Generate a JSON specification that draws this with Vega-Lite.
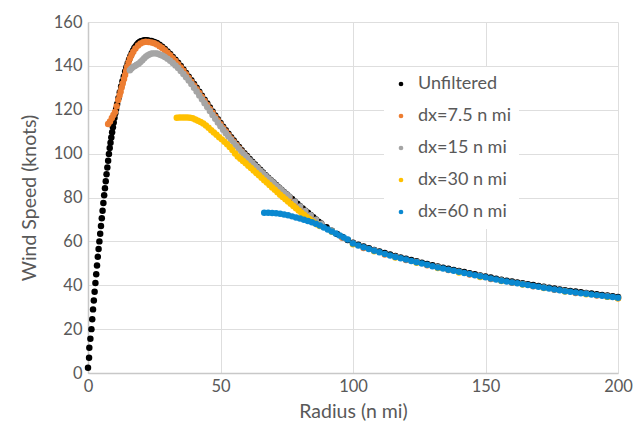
{
"$schema": "https://vega.github.io/schema/vega-lite/v6.json",
"width": 530, "height": 351,
"autosize": {"type": "none"},
"padding": {"left": 88, "top": 22, "right": 16, "bottom": 58},
"background": "white",
"config": {
 "view": {"stroke": null},
 "axis": {"domainColor": "#c8c8c8", "domainWidth": 1.5, "gridColor": "#dedede", "gridWidth": 1, "ticks": false, "labelFlush": false,
  "labelFont": "Lato", "labelFontSize": 16.5, "labelColor": "#595959",
  "titleFont": "Lato", "titleFontSize": 19.5, "titleColor": "#595959", "titleFontWeight": "normal"}
},
"data": {"values": [
{"s":"Unfiltered","r":0.0,"v":2.4},{"s":"Unfiltered","r":0.4,"v":7.0},{"s":"Unfiltered","r":0.5,"v":11.5},{"s":"Unfiltered","r":0.9,"v":15.6},{"s":"Unfiltered","r":1.3,"v":20.0},{"s":"Unfiltered","r":1.6,"v":24.5},{"s":"Unfiltered","r":1.9,"v":29.0},{"s":"Unfiltered","r":2.2,"v":33.0},{"s":"Unfiltered","r":2.5,"v":37.0},{"s":"Unfiltered","r":2.8,"v":41.0},{"s":"Unfiltered","r":3.1,"v":45.0},{"s":"Unfiltered","r":3.4,"v":49.0},{"s":"Unfiltered","r":3.7,"v":53.0},{"s":"Unfiltered","r":4.0,"v":56.5},{"s":"Unfiltered","r":4.3,"v":60.0},{"s":"Unfiltered","r":4.6,"v":63.5},{"s":"Unfiltered","r":4.9,"v":67.0},{"s":"Unfiltered","r":5.2,"v":70.5},{"s":"Unfiltered","r":5.5,"v":74.0},{"s":"Unfiltered","r":5.8,"v":77.5},{"s":"Unfiltered","r":6.1,"v":81.0},{"s":"Unfiltered","r":6.4,"v":84.2},{"s":"Unfiltered","r":6.7,"v":87.4},{"s":"Unfiltered","r":7.0,"v":90.6},{"s":"Unfiltered","r":7.3,"v":93.7},{"s":"Unfiltered","r":7.6,"v":96.8},{"s":"Unfiltered","r":7.9,"v":99.8},{"s":"Unfiltered","r":8.2,"v":102.6},{"s":"Unfiltered","r":8.5,"v":105.0},{"s":"Unfiltered","r":8.8,"v":107.4},{"s":"Unfiltered","r":9.1,"v":109.8},{"s":"Unfiltered","r":9.4,"v":112.0},{"s":"Unfiltered","r":9.7,"v":114.2},{"s":"Unfiltered","r":10.0,"v":116.4},{"s":"Unfiltered","r":10.3,"v":118.4},{"s":"Unfiltered","r":10.6,"v":120.3},{"s":"Unfiltered","r":11.0,"v":122.6},{"s":"Unfiltered","r":11.5,"v":125.4},{"s":"Unfiltered","r":12.0,"v":128.0},{"s":"Unfiltered","r":12.5,"v":130.6},{"s":"Unfiltered","r":13.0,"v":133.0},{"s":"Unfiltered","r":13.5,"v":135.2},{"s":"Unfiltered","r":14.0,"v":137.4},{"s":"Unfiltered","r":14.5,"v":139.4},{"s":"Unfiltered","r":15.0,"v":141.2},{"s":"Unfiltered","r":15.5,"v":142.9},{"s":"Unfiltered","r":16.0,"v":144.4},{"s":"Unfiltered","r":16.5,"v":145.8},{"s":"Unfiltered","r":17.0,"v":147.0},{"s":"Unfiltered","r":17.5,"v":148.1},{"s":"Unfiltered","r":18.0,"v":149.0},{"s":"Unfiltered","r":18.5,"v":149.8},{"s":"Unfiltered","r":19.0,"v":150.4},{"s":"Unfiltered","r":19.5,"v":150.9},{"s":"Unfiltered","r":20.0,"v":151.2},{"s":"Unfiltered","r":20.5,"v":151.4},{"s":"Unfiltered","r":21.0,"v":151.6},{"s":"Unfiltered","r":21.5,"v":151.7},{"s":"Unfiltered","r":22.0,"v":151.7},{"s":"Unfiltered","r":22.5,"v":151.6},
{"s":"Unfiltered","r":23,"v":151.5},{"s":"Unfiltered","r":24,"v":151.3},{"s":"Unfiltered","r":25,"v":150.9},{"s":"Unfiltered","r":26,"v":150.4},{"s":"Unfiltered","r":27,"v":149.6},{"s":"Unfiltered","r":28,"v":148.7},{"s":"Unfiltered","r":29,"v":147.7},{"s":"Unfiltered","r":30,"v":146.6},{"s":"Unfiltered","r":31,"v":145.4},{"s":"Unfiltered","r":32,"v":144.1},{"s":"Unfiltered","r":33,"v":142.8},{"s":"Unfiltered","r":34,"v":141.4},{"s":"Unfiltered","r":35,"v":139.9},{"s":"Unfiltered","r":36,"v":138.4},{"s":"Unfiltered","r":37,"v":136.8},{"s":"Unfiltered","r":38,"v":135.1},{"s":"Unfiltered","r":39,"v":133.4},{"s":"Unfiltered","r":40,"v":131.7},{"s":"Unfiltered","r":41,"v":130.0},{"s":"Unfiltered","r":42,"v":128.2},{"s":"Unfiltered","r":43,"v":126.4},{"s":"Unfiltered","r":44,"v":124.6},{"s":"Unfiltered","r":45,"v":122.8},{"s":"Unfiltered","r":46,"v":121.0},{"s":"Unfiltered","r":47,"v":119.2},{"s":"Unfiltered","r":48,"v":117.4},{"s":"Unfiltered","r":49,"v":115.7},{"s":"Unfiltered","r":50,"v":114.0},{"s":"Unfiltered","r":51,"v":112.3},{"s":"Unfiltered","r":52,"v":110.7},{"s":"Unfiltered","r":53,"v":109.1},{"s":"Unfiltered","r":54,"v":107.5},{"s":"Unfiltered","r":55,"v":106.0},{"s":"Unfiltered","r":56,"v":104.5},{"s":"Unfiltered","r":57,"v":103.0},{"s":"Unfiltered","r":58,"v":101.6},{"s":"Unfiltered","r":59,"v":100.2},{"s":"Unfiltered","r":60,"v":98.9},{"s":"Unfiltered","r":61,"v":97.6},{"s":"Unfiltered","r":62,"v":96.3},{"s":"Unfiltered","r":63,"v":95.0},{"s":"Unfiltered","r":64,"v":93.8},{"s":"Unfiltered","r":65,"v":92.6},{"s":"Unfiltered","r":66,"v":91.4},{"s":"Unfiltered","r":67,"v":90.2},{"s":"Unfiltered","r":68,"v":89.0},{"s":"Unfiltered","r":69,"v":87.9},{"s":"Unfiltered","r":70,"v":86.8},{"s":"Unfiltered","r":71,"v":85.7},{"s":"Unfiltered","r":72,"v":84.6},{"s":"Unfiltered","r":73,"v":83.5},{"s":"Unfiltered","r":74,"v":82.4},{"s":"Unfiltered","r":75,"v":81.4},{"s":"Unfiltered","r":76,"v":80.4},{"s":"Unfiltered","r":77,"v":79.3},{"s":"Unfiltered","r":78,"v":78.2},{"s":"Unfiltered","r":79,"v":77.1},{"s":"Unfiltered","r":80,"v":76.0},{"s":"Unfiltered","r":81,"v":75.0},{"s":"Unfiltered","r":82,"v":74.0},{"s":"Unfiltered","r":83,"v":73.0},{"s":"Unfiltered","r":84,"v":72.0},{"s":"Unfiltered","r":85,"v":71.0},{"s":"Unfiltered","r":86,"v":70.0},{"s":"Unfiltered","r":87,"v":69.0},{"s":"Unfiltered","r":88,"v":68.1},{"s":"Unfiltered","r":90,"v":66.5},{"s":"Unfiltered","r":92,"v":64.9},{"s":"Unfiltered","r":94,"v":63.4},{"s":"Unfiltered","r":96,"v":62.0},{"s":"Unfiltered","r":98,"v":60.6},
{"s":"Unfiltered","r":100,"v":59.4},{"s":"Unfiltered","r":102,"v":58.5},{"s":"Unfiltered","r":104,"v":57.7},{"s":"Unfiltered","r":106,"v":56.9},{"s":"Unfiltered","r":108,"v":56.1},{"s":"Unfiltered","r":110,"v":55.4},{"s":"Unfiltered","r":112,"v":54.7},{"s":"Unfiltered","r":114,"v":54.0},{"s":"Unfiltered","r":116,"v":53.3},{"s":"Unfiltered","r":118,"v":52.7},{"s":"Unfiltered","r":120,"v":52.1},{"s":"Unfiltered","r":122,"v":51.5},{"s":"Unfiltered","r":124,"v":50.9},{"s":"Unfiltered","r":126,"v":50.3},{"s":"Unfiltered","r":128,"v":49.7},{"s":"Unfiltered","r":130,"v":49.1},{"s":"Unfiltered","r":132,"v":48.5},{"s":"Unfiltered","r":134,"v":48.0},{"s":"Unfiltered","r":136,"v":47.5},{"s":"Unfiltered","r":138,"v":47.0},{"s":"Unfiltered","r":140,"v":46.5},{"s":"Unfiltered","r":142,"v":46.0},{"s":"Unfiltered","r":144,"v":45.5},{"s":"Unfiltered","r":146,"v":45.0},{"s":"Unfiltered","r":148,"v":44.5},{"s":"Unfiltered","r":150,"v":44.0},{"s":"Unfiltered","r":152,"v":43.5},{"s":"Unfiltered","r":154,"v":43.0},{"s":"Unfiltered","r":156,"v":42.5},{"s":"Unfiltered","r":158,"v":42.1},{"s":"Unfiltered","r":160,"v":41.7},{"s":"Unfiltered","r":162,"v":41.3},{"s":"Unfiltered","r":164,"v":40.9},{"s":"Unfiltered","r":166,"v":40.5},{"s":"Unfiltered","r":168,"v":40.1},{"s":"Unfiltered","r":170,"v":39.7},{"s":"Unfiltered","r":172,"v":39.3},{"s":"Unfiltered","r":174,"v":38.9},{"s":"Unfiltered","r":176,"v":38.5},{"s":"Unfiltered","r":178,"v":38.1},{"s":"Unfiltered","r":180,"v":37.7},{"s":"Unfiltered","r":182,"v":37.4},{"s":"Unfiltered","r":184,"v":37.1},{"s":"Unfiltered","r":186,"v":36.8},{"s":"Unfiltered","r":188,"v":36.5},{"s":"Unfiltered","r":190,"v":36.2},{"s":"Unfiltered","r":192,"v":35.9},{"s":"Unfiltered","r":194,"v":35.6},{"s":"Unfiltered","r":196,"v":35.3},{"s":"Unfiltered","r":198,"v":35.0},{"s":"Unfiltered","r":200,"v":34.7},
{"s":"dx=7.5 n mi","r":7.6,"v":113.5},{"s":"dx=7.5 n mi","r":8.3,"v":114.6},{"s":"dx=7.5 n mi","r":9.0,"v":116.2},{"s":"dx=7.5 n mi","r":9.6,"v":117.6},{"s":"dx=7.5 n mi","r":10.2,"v":119.0},{"s":"dx=7.5 n mi","r":10.8,"v":121.6},{"s":"dx=7.5 n mi","r":11.4,"v":124.4},{"s":"dx=7.5 n mi","r":11.9,"v":126.5},{"s":"dx=7.5 n mi","r":12.3,"v":128.2},{"s":"dx=7.5 n mi","r":12.7,"v":130.1},{"s":"dx=7.5 n mi","r":13.1,"v":132.0},{"s":"dx=7.5 n mi","r":13.6,"v":134.0},{"s":"dx=7.5 n mi","r":14.0,"v":135.8},{"s":"dx=7.5 n mi","r":14.4,"v":137.7},{"s":"dx=7.5 n mi","r":14.8,"v":139.6},{"s":"dx=7.5 n mi","r":15.3,"v":141.6},{"s":"dx=7.5 n mi","r":15.8,"v":143.4},{"s":"dx=7.5 n mi","r":16.4,"v":145.0},{"s":"dx=7.5 n mi","r":17.1,"v":146.4},{"s":"dx=7.5 n mi","r":17.9,"v":147.9},{"s":"dx=7.5 n mi","r":18.9,"v":149.3},{"s":"dx=7.5 n mi","r":19.8,"v":150.2},{"s":"dx=7.5 n mi","r":20.8,"v":150.8},{"s":"dx=7.5 n mi","r":21.8,"v":151.0},{"s":"dx=7.5 n mi","r":22.8,"v":150.9},
{"s":"dx=7.5 n mi","r":24,"v":150.7},{"s":"dx=7.5 n mi","r":25,"v":150.3},{"s":"dx=7.5 n mi","r":26,"v":149.8},{"s":"dx=7.5 n mi","r":27,"v":149.0},{"s":"dx=7.5 n mi","r":28,"v":148.1},{"s":"dx=7.5 n mi","r":29,"v":147.1},{"s":"dx=7.5 n mi","r":30,"v":146.0},{"s":"dx=7.5 n mi","r":31,"v":144.8},{"s":"dx=7.5 n mi","r":32,"v":143.5},{"s":"dx=7.5 n mi","r":33,"v":142.2},{"s":"dx=7.5 n mi","r":34,"v":140.8},{"s":"dx=7.5 n mi","r":35,"v":139.3},{"s":"dx=7.5 n mi","r":36,"v":137.8},{"s":"dx=7.5 n mi","r":37,"v":136.2},{"s":"dx=7.5 n mi","r":38,"v":134.5},{"s":"dx=7.5 n mi","r":39,"v":132.8},{"s":"dx=7.5 n mi","r":40,"v":131.1},{"s":"dx=7.5 n mi","r":41,"v":129.4},{"s":"dx=7.5 n mi","r":42,"v":127.6},{"s":"dx=7.5 n mi","r":43,"v":125.8},{"s":"dx=7.5 n mi","r":44,"v":124.0},{"s":"dx=7.5 n mi","r":45,"v":122.2},{"s":"dx=7.5 n mi","r":46,"v":120.4},{"s":"dx=7.5 n mi","r":47,"v":118.6},{"s":"dx=7.5 n mi","r":48,"v":116.8},{"s":"dx=7.5 n mi","r":49,"v":115.1},{"s":"dx=7.5 n mi","r":50,"v":113.4},{"s":"dx=7.5 n mi","r":51,"v":111.7},{"s":"dx=7.5 n mi","r":52,"v":110.1},{"s":"dx=7.5 n mi","r":53,"v":108.5},{"s":"dx=7.5 n mi","r":54,"v":106.9},{"s":"dx=7.5 n mi","r":55,"v":105.4},{"s":"dx=7.5 n mi","r":56,"v":103.9},{"s":"dx=7.5 n mi","r":57,"v":102.4},{"s":"dx=7.5 n mi","r":58,"v":101.0},{"s":"dx=7.5 n mi","r":59,"v":99.6},{"s":"dx=7.5 n mi","r":60,"v":98.3},{"s":"dx=7.5 n mi","r":62,"v":95.7},{"s":"dx=7.5 n mi","r":64,"v":93.2},{"s":"dx=7.5 n mi","r":66,"v":90.8},{"s":"dx=7.5 n mi","r":68,"v":88.4},{"s":"dx=7.5 n mi","r":70,"v":86.2},{"s":"dx=7.5 n mi","r":72,"v":84.0},{"s":"dx=7.5 n mi","r":74,"v":81.8},{"s":"dx=7.5 n mi","r":76,"v":79.8},{"s":"dx=7.5 n mi","r":78,"v":77.6},{"s":"dx=7.5 n mi","r":80,"v":75.4},{"s":"dx=7.5 n mi","r":82,"v":73.4},{"s":"dx=7.5 n mi","r":84,"v":71.4},{"s":"dx=7.5 n mi","r":86,"v":69.4},{"s":"dx=7.5 n mi","r":88,"v":67.5},{"s":"dx=7.5 n mi","r":96,"v":61.6},{"s":"dx=7.5 n mi","r":104,"v":57.0},{"s":"dx=7.5 n mi","r":112,"v":54.0},{"s":"dx=7.5 n mi","r":120,"v":51.5},{"s":"dx=7.5 n mi","r":128,"v":49.1},{"s":"dx=7.5 n mi","r":136,"v":46.9},{"s":"dx=7.5 n mi","r":144,"v":44.9},{"s":"dx=7.5 n mi","r":152,"v":42.9},{"s":"dx=7.5 n mi","r":160,"v":41.1},{"s":"dx=7.5 n mi","r":168,"v":39.5},{"s":"dx=7.5 n mi","r":176,"v":37.9},{"s":"dx=7.5 n mi","r":184,"v":36.5},{"s":"dx=7.5 n mi","r":192,"v":35.3},{"s":"dx=7.5 n mi","r":200,"v":34.1},
{"s":"dx=15 n mi","r":15.8,"v":138.0},{"s":"dx=15 n mi","r":16.4,"v":138.8},{"s":"dx=15 n mi","r":17.0,"v":139.5},{"s":"dx=15 n mi","r":17.7,"v":140.0},{"s":"dx=15 n mi","r":18.4,"v":140.5},{"s":"dx=15 n mi","r":19.1,"v":141.0},{"s":"dx=15 n mi","r":19.8,"v":141.8},{"s":"dx=15 n mi","r":20.5,"v":142.6},{"s":"dx=15 n mi","r":21.2,"v":143.5},{"s":"dx=15 n mi","r":21.9,"v":144.3},{"s":"dx=15 n mi","r":22.6,"v":144.9},{"s":"dx=15 n mi","r":23.3,"v":145.3},{"s":"dx=15 n mi","r":24.0,"v":145.6},{"s":"dx=15 n mi","r":24.7,"v":145.7},{"s":"dx=15 n mi","r":25.4,"v":145.7},{"s":"dx=15 n mi","r":26.1,"v":145.6},{"s":"dx=15 n mi","r":26.8,"v":145.3},{"s":"dx=15 n mi","r":27.5,"v":145.0},{"s":"dx=15 n mi","r":28.2,"v":144.6},
{"s":"dx=15 n mi","r":29,"v":144.0},{"s":"dx=15 n mi","r":30,"v":143.2},{"s":"dx=15 n mi","r":31,"v":142.3},{"s":"dx=15 n mi","r":32,"v":141.3},{"s":"dx=15 n mi","r":33,"v":140.2},{"s":"dx=15 n mi","r":34,"v":139.0},{"s":"dx=15 n mi","r":35,"v":137.7},{"s":"dx=15 n mi","r":36,"v":136.3},{"s":"dx=15 n mi","r":37,"v":134.8},{"s":"dx=15 n mi","r":38,"v":133.3},{"s":"dx=15 n mi","r":39,"v":131.7},{"s":"dx=15 n mi","r":40,"v":130.0},{"s":"dx=15 n mi","r":41,"v":128.3},{"s":"dx=15 n mi","r":42,"v":126.5},{"s":"dx=15 n mi","r":43,"v":124.8},{"s":"dx=15 n mi","r":44,"v":123.0},{"s":"dx=15 n mi","r":45,"v":121.2},{"s":"dx=15 n mi","r":46,"v":119.4},{"s":"dx=15 n mi","r":47,"v":117.6},{"s":"dx=15 n mi","r":48,"v":115.9},{"s":"dx=15 n mi","r":49,"v":114.2},{"s":"dx=15 n mi","r":50,"v":112.5},{"s":"dx=15 n mi","r":51,"v":110.9},{"s":"dx=15 n mi","r":52,"v":109.3},{"s":"dx=15 n mi","r":53,"v":107.8},{"s":"dx=15 n mi","r":54,"v":106.3},{"s":"dx=15 n mi","r":55,"v":104.9},{"s":"dx=15 n mi","r":56,"v":103.5},{"s":"dx=15 n mi","r":57,"v":102.1},{"s":"dx=15 n mi","r":58,"v":100.8},{"s":"dx=15 n mi","r":59,"v":99.5},{"s":"dx=15 n mi","r":60,"v":98.3},{"s":"dx=15 n mi","r":61,"v":97.0},{"s":"dx=15 n mi","r":62,"v":95.8},{"s":"dx=15 n mi","r":63,"v":94.6},{"s":"dx=15 n mi","r":64,"v":93.4},{"s":"dx=15 n mi","r":65,"v":92.2},{"s":"dx=15 n mi","r":66,"v":91.1},{"s":"dx=15 n mi","r":67,"v":89.9},{"s":"dx=15 n mi","r":68,"v":88.8},{"s":"dx=15 n mi","r":69,"v":87.7},{"s":"dx=15 n mi","r":70,"v":86.6},{"s":"dx=15 n mi","r":71,"v":85.5},{"s":"dx=15 n mi","r":72,"v":84.5},{"s":"dx=15 n mi","r":73,"v":83.4},{"s":"dx=15 n mi","r":74,"v":82.3},{"s":"dx=15 n mi","r":75,"v":81.3},{"s":"dx=15 n mi","r":76,"v":80.3},{"s":"dx=15 n mi","r":78,"v":78.1},{"s":"dx=15 n mi","r":80,"v":75.9},{"s":"dx=15 n mi","r":82,"v":73.9},{"s":"dx=15 n mi","r":84,"v":71.9},{"s":"dx=15 n mi","r":86,"v":69.9},{"s":"dx=15 n mi","r":88,"v":68.0},{"s":"dx=15 n mi","r":92,"v":64.7},{"s":"dx=15 n mi","r":100,"v":59.0},{"s":"dx=15 n mi","r":108,"v":55.8},{"s":"dx=15 n mi","r":116,"v":53.0},{"s":"dx=15 n mi","r":124,"v":50.6},{"s":"dx=15 n mi","r":132,"v":48.2},{"s":"dx=15 n mi","r":140,"v":46.2},{"s":"dx=15 n mi","r":148,"v":44.2},{"s":"dx=15 n mi","r":156,"v":42.2},{"s":"dx=15 n mi","r":164,"v":40.6},{"s":"dx=15 n mi","r":172,"v":39.0},{"s":"dx=15 n mi","r":180,"v":37.4},{"s":"dx=15 n mi","r":188,"v":36.2},{"s":"dx=15 n mi","r":196,"v":35.0},
{"s":"dx=30 n mi","r":33.5,"v":116.4},{"s":"dx=30 n mi","r":34.5,"v":116.5},{"s":"dx=30 n mi","r":35.5,"v":116.5},{"s":"dx=30 n mi","r":36.5,"v":116.5},{"s":"dx=30 n mi","r":37.5,"v":116.5},{"s":"dx=30 n mi","r":38.5,"v":116.4},{"s":"dx=30 n mi","r":39.5,"v":116.1},{"s":"dx=30 n mi","r":40.5,"v":115.6},{"s":"dx=30 n mi","r":41.5,"v":115.0},{"s":"dx=30 n mi","r":42.5,"v":114.4},{"s":"dx=30 n mi","r":43.5,"v":113.7},{"s":"dx=30 n mi","r":44.5,"v":112.8},{"s":"dx=30 n mi","r":45.5,"v":111.8},{"s":"dx=30 n mi","r":46.5,"v":110.7},{"s":"dx=30 n mi","r":47.5,"v":109.6},{"s":"dx=30 n mi","r":48.5,"v":108.6},{"s":"dx=30 n mi","r":49.5,"v":107.5},{"s":"dx=30 n mi","r":50.5,"v":106.5},{"s":"dx=30 n mi","r":51.5,"v":105.4},{"s":"dx=30 n mi","r":52.5,"v":104.3},{"s":"dx=30 n mi","r":53.5,"v":103.0},{"s":"dx=30 n mi","r":54.5,"v":101.6},{"s":"dx=30 n mi","r":55.5,"v":100.1},{"s":"dx=30 n mi","r":56.5,"v":98.7},{"s":"dx=30 n mi","r":57.5,"v":97.7},{"s":"dx=30 n mi","r":58.5,"v":96.6},{"s":"dx=30 n mi","r":59.5,"v":95.6},{"s":"dx=30 n mi","r":60.5,"v":94.5},{"s":"dx=30 n mi","r":61.5,"v":93.4},{"s":"dx=30 n mi","r":62.5,"v":92.3},{"s":"dx=30 n mi","r":63.5,"v":91.2},{"s":"dx=30 n mi","r":64.5,"v":90.1},{"s":"dx=30 n mi","r":65.5,"v":89.0},{"s":"dx=30 n mi","r":66.5,"v":87.9},{"s":"dx=30 n mi","r":67.5,"v":86.8},{"s":"dx=30 n mi","r":68.5,"v":85.7},{"s":"dx=30 n mi","r":69.5,"v":84.6},{"s":"dx=30 n mi","r":70.5,"v":83.5},{"s":"dx=30 n mi","r":71.5,"v":82.4},{"s":"dx=30 n mi","r":72.5,"v":81.3},{"s":"dx=30 n mi","r":73.5,"v":80.2},{"s":"dx=30 n mi","r":74.5,"v":79.2},{"s":"dx=30 n mi","r":75.5,"v":78.2},{"s":"dx=30 n mi","r":76.5,"v":77.2},{"s":"dx=30 n mi","r":77.5,"v":76.1},{"s":"dx=30 n mi","r":78.5,"v":75.1},{"s":"dx=30 n mi","r":79.5,"v":74.1},{"s":"dx=30 n mi","r":80.5,"v":73.1},{"s":"dx=30 n mi","r":81.5,"v":72.1},{"s":"dx=30 n mi","r":82.5,"v":71.1},{"s":"dx=30 n mi","r":83.5,"v":70.2},{"s":"dx=30 n mi","r":84.5,"v":69.3},{"s":"dx=30 n mi","r":85.5,"v":68.5},{"s":"dx=30 n mi","r":86.5,"v":67.7},{"s":"dx=30 n mi","r":87.5,"v":67.0},{"s":"dx=30 n mi","r":92,"v":64.4},{"s":"dx=30 n mi","r":100,"v":58.7},{"s":"dx=30 n mi","r":108,"v":55.5},{"s":"dx=30 n mi","r":116,"v":52.7},{"s":"dx=30 n mi","r":124,"v":50.2},{"s":"dx=30 n mi","r":132,"v":47.9},{"s":"dx=30 n mi","r":140,"v":45.8},{"s":"dx=30 n mi","r":148,"v":43.8},{"s":"dx=30 n mi","r":156,"v":41.9},{"s":"dx=30 n mi","r":164,"v":40.3},{"s":"dx=30 n mi","r":172,"v":38.7},{"s":"dx=30 n mi","r":180,"v":37.1},{"s":"dx=30 n mi","r":188,"v":35.9},{"s":"dx=30 n mi","r":196,"v":34.7},{"s":"dx=30 n mi","r":200,"v":34.1},
{"s":"dx=60 n mi","r":66.5,"v":73.0},{"s":"dx=60 n mi","r":68,"v":73.0},{"s":"dx=60 n mi","r":69.5,"v":72.9},{"s":"dx=60 n mi","r":71,"v":72.8},{"s":"dx=60 n mi","r":72.5,"v":72.6},{"s":"dx=60 n mi","r":74,"v":72.3},{"s":"dx=60 n mi","r":75.5,"v":71.9},{"s":"dx=60 n mi","r":77,"v":71.4},{"s":"dx=60 n mi","r":78.5,"v":70.9},{"s":"dx=60 n mi","r":80,"v":70.4},{"s":"dx=60 n mi","r":81.5,"v":69.9},{"s":"dx=60 n mi","r":83,"v":69.3},{"s":"dx=60 n mi","r":84.5,"v":68.7},{"s":"dx=60 n mi","r":86,"v":68.0},{"s":"dx=60 n mi","r":87.5,"v":67.2},{"s":"dx=60 n mi","r":89,"v":66.3},{"s":"dx=60 n mi","r":90.5,"v":65.4},{"s":"dx=60 n mi","r":92,"v":64.5},{"s":"dx=60 n mi","r":93.5,"v":63.6},{"s":"dx=60 n mi","r":95,"v":62.7},{"s":"dx=60 n mi","r":96.5,"v":61.8},{"s":"dx=60 n mi","r":98,"v":60.9},
{"s":"dx=60 n mi","r":100,"v":59.0},{"s":"dx=60 n mi","r":102,"v":58.1},{"s":"dx=60 n mi","r":104,"v":57.3},{"s":"dx=60 n mi","r":106,"v":56.5},{"s":"dx=60 n mi","r":108,"v":55.7},{"s":"dx=60 n mi","r":110,"v":55.0},{"s":"dx=60 n mi","r":112,"v":54.3},{"s":"dx=60 n mi","r":114,"v":53.6},{"s":"dx=60 n mi","r":116,"v":52.9},{"s":"dx=60 n mi","r":118,"v":52.3},{"s":"dx=60 n mi","r":120,"v":51.7},{"s":"dx=60 n mi","r":122,"v":51.1},{"s":"dx=60 n mi","r":124,"v":50.5},{"s":"dx=60 n mi","r":126,"v":49.9},{"s":"dx=60 n mi","r":128,"v":49.3},{"s":"dx=60 n mi","r":130,"v":48.7},{"s":"dx=60 n mi","r":132,"v":48.1},{"s":"dx=60 n mi","r":134,"v":47.6},{"s":"dx=60 n mi","r":136,"v":47.1},{"s":"dx=60 n mi","r":138,"v":46.6},{"s":"dx=60 n mi","r":140,"v":46.1},{"s":"dx=60 n mi","r":142,"v":45.6},{"s":"dx=60 n mi","r":144,"v":45.1},{"s":"dx=60 n mi","r":146,"v":44.6},{"s":"dx=60 n mi","r":148,"v":44.1},{"s":"dx=60 n mi","r":150,"v":43.6},{"s":"dx=60 n mi","r":152,"v":43.1},{"s":"dx=60 n mi","r":154,"v":42.6},{"s":"dx=60 n mi","r":156,"v":42.1},{"s":"dx=60 n mi","r":158,"v":41.7},{"s":"dx=60 n mi","r":160,"v":41.3},{"s":"dx=60 n mi","r":162,"v":40.9},{"s":"dx=60 n mi","r":164,"v":40.5},{"s":"dx=60 n mi","r":166,"v":40.1},{"s":"dx=60 n mi","r":168,"v":39.7},{"s":"dx=60 n mi","r":170,"v":39.3},{"s":"dx=60 n mi","r":172,"v":38.9},{"s":"dx=60 n mi","r":174,"v":38.5},{"s":"dx=60 n mi","r":176,"v":38.1},{"s":"dx=60 n mi","r":178,"v":37.7},{"s":"dx=60 n mi","r":180,"v":37.3},{"s":"dx=60 n mi","r":182,"v":37.0},{"s":"dx=60 n mi","r":184,"v":36.7},{"s":"dx=60 n mi","r":186,"v":36.4},{"s":"dx=60 n mi","r":188,"v":36.1},{"s":"dx=60 n mi","r":190,"v":35.8},{"s":"dx=60 n mi","r":192,"v":35.5},{"s":"dx=60 n mi","r":194,"v":35.2},{"s":"dx=60 n mi","r":196,"v":34.9},{"s":"dx=60 n mi","r":198,"v":34.6},{"s":"dx=60 n mi","r":200,"v":34.3}
]},
"mark": {"type": "point", "filled": true, "size": 42, "opacity": 1, "strokeWidth": 0},
"encoding": {
 "x": {"field": "r", "type": "quantitative", "scale": {"domain": [0, 200], "nice": false},
  "axis": {"values": [0, 50, 100, 150, 200], "title": "Radius (n mi)", "labelPadding": 5, "titlePadding": 8}},
 "y": {"field": "v", "type": "quantitative", "scale": {"domain": [0, 160], "nice": false},
  "axis": {"values": [0, 20, 40, 60, 80, 100, 120, 140, 160], "title": "Wind Speed (knots)", "labelPadding": 6, "titlePadding": 14}},
 "color": {"field": "s", "type": "nominal",
  "scale": {"domain": ["Unfiltered", "dx=7.5 n mi", "dx=15 n mi", "dx=30 n mi", "dx=60 n mi"],
   "range": ["#000000", "#ED7D31", "#A5A5A5", "#FFC000", "#0A88D0"]},
  "legend": {"title": null, "orient": "none", "legendX": 296, "legendY": 45, "fillColor": "white", "padding": 8,
   "labelFont": "Lato", "labelFontSize": 18, "labelColor": "#595959", "symbolType": "circle", "symbolSize": 22,
   "symbolStrokeWidth": 0, "rowPadding": 14, "labelOffset": 8}}
}
}
